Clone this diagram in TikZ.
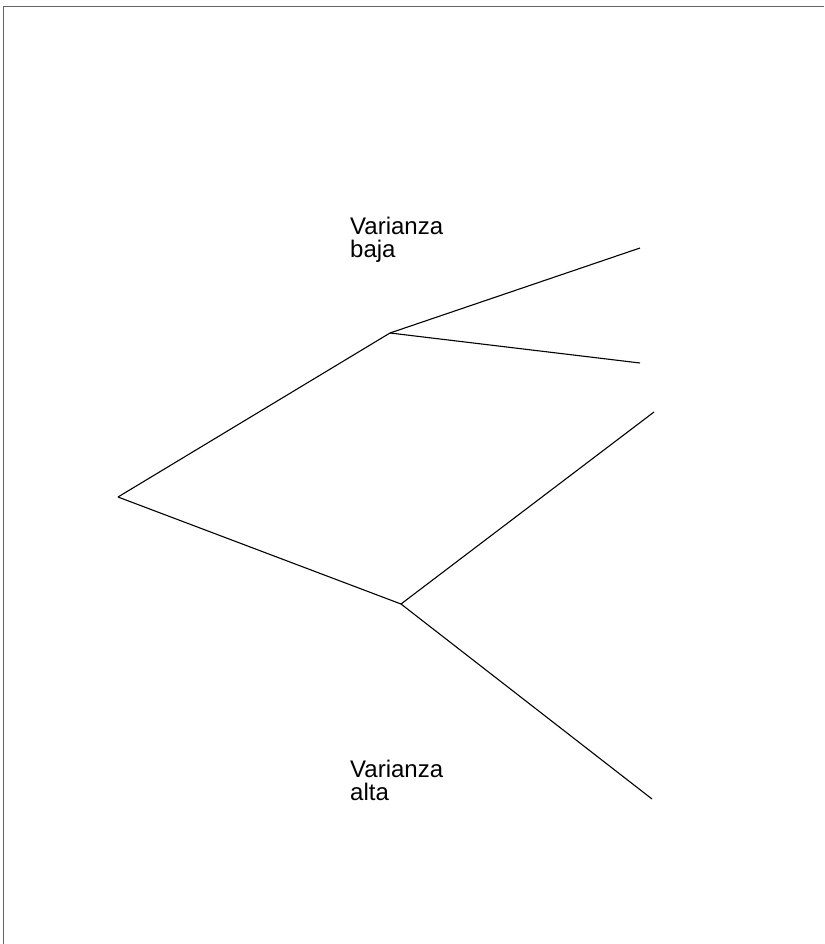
\documentclass[tikz,border=0pt]{standalone}
\usepackage{fontspec}
\setmainfont{Liberation Sans}
\usepackage{xcolor}
\usetikzlibrary{positioning}
\definecolor{FrameGray}{RGB}{100,100,100}

\begin{document}
\begin{tikzpicture}[x=1pt, y=-1pt,
          branch/.style={draw=black, line width=1.1pt},
          lbl/.style={anchor=north west, inner sep=0pt, align=left,
                      font=\fontsize{24}{22.5}\selectfont}
        ]
        \useasboundingbox (0,0) rectangle (824,944);
        % Frame
        \draw[FrameGray, line width=1.3pt] (824,6.5) -- (3.5,6.5) -- (3.5,944);
        % Tree nodes
        \coordinate (root) at (118,497);
        \coordinate (low) at (390,333);
        \coordinate (high) at (401,604);
        \coordinate (l1) at (640,248);
        \coordinate (l2) at (640,363);
        \coordinate (h1) at (654,412);
        \coordinate (h2) at (652,799);
        % Branches
        \foreach \n in {low, high} {
          \draw[branch] (root) -- (\n);
        }
        \foreach \a/\b in {low/l1, low/l2, high/h1, high/h2} {
          \draw[branch] (\a) -- (\b);
        }
        % Labels
        \node[lbl] (lowlbl) at (350,217) {Varianza\\baja};
        \node[lbl] (highlbl) at (350,760) {Varianza\\alta};
      \end{tikzpicture}
\end{document}
